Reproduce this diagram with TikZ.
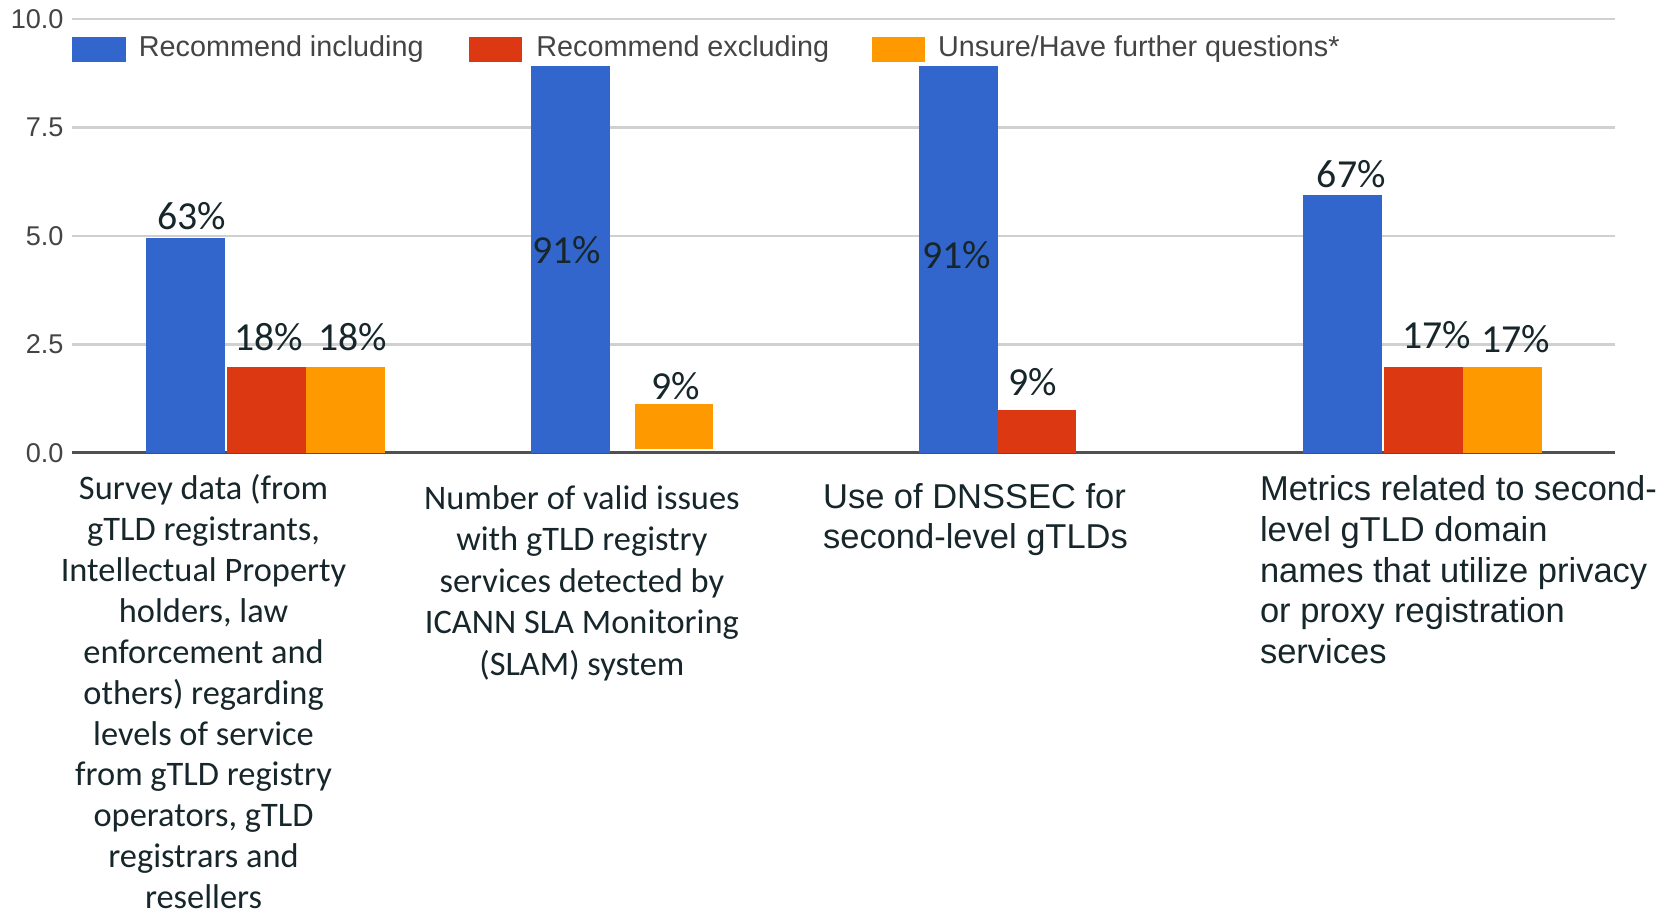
\documentclass[tikz,border=0pt]{standalone}
\usepackage{fontspec}
\setmainfont{Liberation Sans}
\newfontfamily\calfont{Carlito}
\definecolor{incl}{HTML}{3366CC}
\definecolor{excl}{HTML}{DC3912}
\definecolor{unsure}{HTML}{FF9900}
\definecolor{gridgray}{HTML}{D0D0D0}
\definecolor{axisgray}{HTML}{505050}
\definecolor{ticktext}{HTML}{444444}
\definecolor{labeltext}{HTML}{16262A}
\begin{document}
\begin{tikzpicture}[x=0.55pt,y=-0.55pt,line cap=butt,
	pct/.style={font=\calfont\fontsize{20.5}{24}\selectfont,text=labeltext,inner sep=0},
	tick/.style={font=\fontsize{14}{16}\selectfont,text=ticktext,anchor=east,inner sep=0},
	key/.style={font=\fontsize{14.85}{17}\selectfont,text=ticktext,anchor=west,inner sep=0},
	calcat/.style={font=\calfont\fontsize{17.75}{21.45}\selectfont,text=labeltext,inner sep=0,align=center,anchor=north},
	aricat/.style={font=\fontsize{17.8}{21}\selectfont,text=labeltext,inner sep=0,align=left,anchor=north west}]
	\def\yz{425} \def\u{40.7}
	\useasboundingbox (0,0) rectangle (1568,863);
	% grid and axis
	\foreach \v/\t in {0/0.0,2.5/2.5,5/5.0,7.5/7.5,10/10.0}{
		\draw[gridgray,line width=1.2pt] (68,\yz-\v*\u) -- (1515,\yz-\v*\u);
		\node[tick] (tick\v) at (60,\yz-\v*\u) {\t};
	}
	\draw[axisgray,line width=1.6pt] (68,\yz) -- (1515,\yz);
	% legend
	\fill[incl] (68,35) rectangle (118,58);
	\node[key] (keyincl) at (130,46) {Recommend including};
	\fill[excl] (440,35) rectangle (490,58);
	\node[key] (keyexcl) at (503,46) {Recommend excluding};
	\fill[unsure] (818,35) rectangle (868,58);
	\node[key] (keyunsure) at (880,46) {Unsure/Have further questions*};
	% bars
	\foreach \x/\v/\c in {137/4.95/incl,213/1.97/excl,287/1.97/unsure,498/8.92/incl,862/8.92/incl,936/0.98/excl,1223/5.95/incl,1299/1.97/excl,1373/1.97/unsure}
		\fill[\c] (\x,\yz) rectangle (\x+74,\yz-\v*\u);
	\fill[unsure] (596,421) rectangle (669,379);
	% values
	\node[pct] (p1a) at (180,203) {63\%};
	\node[pct] (p1b) at (252,316) {18\%};
	\node[pct] (p1c) at (331,316) {18\%};
	\node[pct] (p2a) at (532,235) {91\%};
	\node[pct] (p2c) at (634,362) {9\%};
	\node[pct] (p3a) at (898,239) {91\%};
	\node[pct] (p3b) at (969,359) {9\%};
	\node[pct] (p4a) at (1268,163) {67\%};
	\node[pct] (p4b) at (1348,314) {17\%};
	\node[pct] (p4c) at (1422,318) {17\%};
	% categories
	\node[calcat,font=\calfont\fontsize{17.75}{21.1}\selectfont] (survey) at (191,445) {Survey data (from\\gTLD registrants,\\Intellectual Property\\holders, law\\enforcement and\\others) regarding\\levels of service\\from gTLD registry\\operators, gTLD\\registrars and\\resellers};
	\node[calcat] (slam) at (546,455) {Number of valid issues\\with gTLD registry\\services detected by\\ICANN SLA Monitoring\\(SLAM) system};
	\node[aricat] (dnssec) at (772,453) {Use of DNSSEC for\\second-level gTLDs};
	\node[aricat] (privacy) at (1182,446) {Metrics related to second-\\level gTLD domain\\names that utilize privacy\\or proxy registration\\services};
\end{tikzpicture}
\end{document}
